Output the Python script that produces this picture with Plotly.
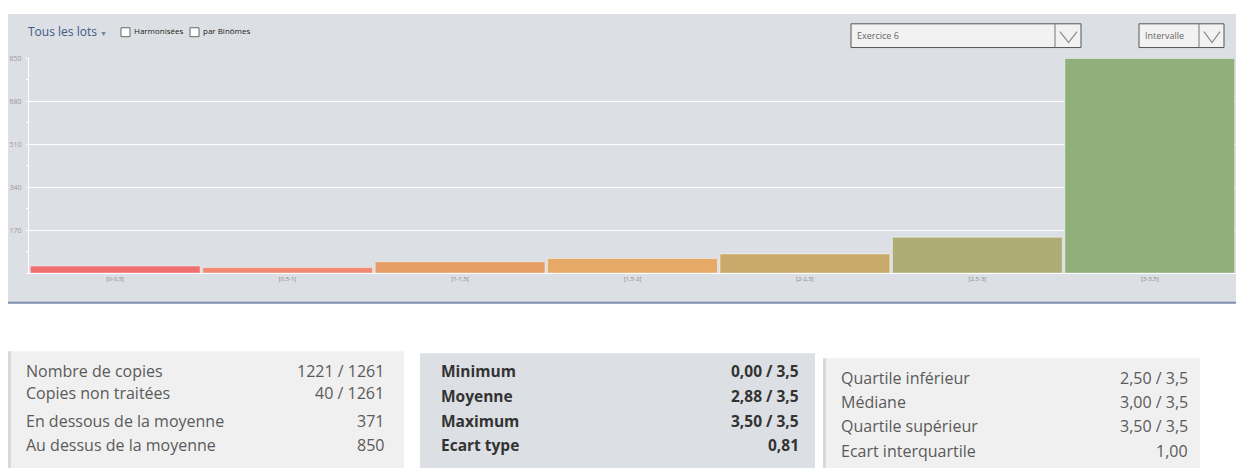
import plotly.graph_objects as go

W, H = 1236, 468

# ---- data ----
categories = ["[0-0,5[", "[0,5-1[", "[1-1,5[", "[1,5-2[", "[2-2,5[", "[2,5-3[", "[3-3,5]"]
counts = [28, 22, 45, 58, 76, 142, 850]
bar_colors = ["#ef7070", "#ee8a72", "#e49e66", "#e6aa66", "#c9aa6a", "#adac74", "#8fb07a"]
y_tickvals = [170, 340, 510, 680, 850]

panel1_labels = ["Nombre de copies", "Copies non traitées", "En dessous de la moyenne", "Au dessus de la moyenne"]
panel1_values = ["1221 / 1261", "40 / 1261", "371", "850"]
panel2_labels = ["Minimum", "Moyenne", "Maximum", "Ecart type"]
panel2_values = ["0,00 / 3,5", "2,88 / 3,5", "3,50 / 3,5", "0,81"]
panel3_labels = ["Quartile inférieur", "Médiane", "Quartile supérieur", "Ecart interquartile"]
panel3_values = ["2,50 / 3,5", "3,00 / 3,5", "3,50 / 3,5", "1,00"]


def px(x):
    return x / W


def py(y):
    return 1 - y / H


FONT = "Open Sans"
PANEL = "#dcdfe3"

fig = go.Figure()
fig.add_trace(go.Bar(
    x=categories, y=counts,
    marker=dict(color=bar_colors, line=dict(color="rgba(255,255,255,0.45)", width=1)),
    hoverinfo="x+y",
))

shapes = []


def rect(x0, y0, x1, y1, fill, line=None, lw=0):
    shapes.append(dict(type="rect", xref="paper", yref="paper", layer="below",
                       x0=px(x0), x1=px(x1), y0=py(y1), y1=py(y0),
                       fillcolor=fill, line=dict(color=line or fill, width=lw)))


def line(x0, y0, x1, y1, color, lw=1, layer="above"):
    shapes.append(dict(type="line", xref="paper", yref="paper", layer=layer,
                       x0=px(x0), x1=px(x1), y0=py(y0), y1=py(y1),
                       line=dict(color=color, width=lw)))


def chevron(x0, y0, x1, y1, color):
    xm = (x0 + x1) / 2
    path = f"M {px(x0)} {py(y0)} L {px(xm)} {py(y1)} L {px(x1)} {py(y0)}"
    shapes.append(dict(type="path", xref="paper", yref="paper", path=path,
                       line=dict(color=color, width=1.2)))


# chart panel
rect(8, 9, 1236, 301, PANEL)
line(8, 301, 1236, 301, "#7f8fae", 2, layer="below")

# checkboxes
rect(121, 23, 130, 32, "#ffffff", "#666666", 1)
rect(190, 23, 199, 32, "#ffffff", "#666666", 1)

# dropdowns
for (x0, x1, xd) in [(851, 1081, 1055), (1139, 1224, 1199)]:
    shapes.append(dict(type="rect", xref="paper", yref="paper", layer="above",
                       x0=px(x0), x1=px(x1), y0=py(43), y1=py(19),
                       fillcolor="#f2f2f2", line=dict(color="#555555", width=1)))
    line(xd, 19, xd, 43, "#777777", 1)
    chevron(xd + 5, 27, x1 - 4, 38, "#888888")

# bottom panels
rect(8, 350, 404, 468, "#f0f0f0")
rect(8, 350, 11, 468, "#d6d8db")
rect(420, 352, 815, 468, PANEL)
rect(823, 357, 1200, 468, "#f0f0f0")
rect(823, 357, 826, 468, "#d6d8db")

ann = []


def text(x, y, s, size, color, anchor="left", bold=False):
    ann.append(dict(xref="paper", yref="paper", x=px(x), y=py(y), text=("<b>%s</b>" % s) if bold else s,
                    showarrow=False, xanchor=anchor, yanchor="middle",
                    font=dict(family=FONT, size=size, color=color)))


text(26, 27, "Tous les lots <span style='font-size:7px;color:#6a7f9f'>▼</span>", 12, "#3d5a86")
text(132, 26, "Harmonisées", 8, "#222222")
text(201, 26, "par Binômes", 8, "#222222")
text(855, 31, "Exercice 6", 9, "#666666")
text(1143, 31, "Intervalle", 9, "#666666")

rows1 = [370, 392, 420, 445]
for lab, val, y in zip(panel1_labels, panel1_values, rows1):
    text(24, y, lab, 16, "#5a5a5a")
    text(386, y, val, 16, "#5a5a5a", anchor="right")
rows2 = [370, 395, 420, 445]
for lab, val, y in zip(panel2_labels, panel2_values, rows2):
    text(439, y, lab, 15.5, "#333333", bold=True)
    text(801, y, val, 15.5, "#333333", anchor="right", bold=True)
rows3 = [377, 401, 426, 451]
for lab, val, y in zip(panel3_labels, panel3_values, rows3):
    text(839, y, lab, 16, "#5a5a5a")
    text(1190, y, val, 16, "#5a5a5a", anchor="right")

fig.update_layout(
    width=W, height=H,
    margin=dict(l=0, r=0, t=0, b=0),
    paper_bgcolor="#ffffff",
    plot_bgcolor="rgba(0,0,0,0)",
    showlegend=False,
    bargap=0.015,
    shapes=shapes,
    annotations=ann,
    font=dict(family=FONT),
    xaxis=dict(domain=[px(29), 1.0], range=[-0.5, 6.5], showgrid=False,
               showline=True, linecolor="#ffffff", linewidth=1,
               tickfont=dict(size=6, color="#8a8a8a"), ticks="", fixedrange=True),
    yaxis=dict(domain=[py(271), py(54)], range=[0, 850], tickvals=y_tickvals,
               showgrid=True, gridcolor="#ffffff", gridwidth=1, zeroline=False,
               showline=True, linecolor="#ffffff", linewidth=1,
               ticks="", ticklabelstandoff=5,
               minor=dict(ticks="outside", ticklen=2, tickcolor="#ffffff", dtick=85, showgrid=False),
               tickfont=dict(size=7, color="#9a9a9a"), fixedrange=True),
)

fig.write_html("out.html", config={"displayModeBar": False},
               post_script="document.body.style.margin='0';document.body.style.padding='0';")
